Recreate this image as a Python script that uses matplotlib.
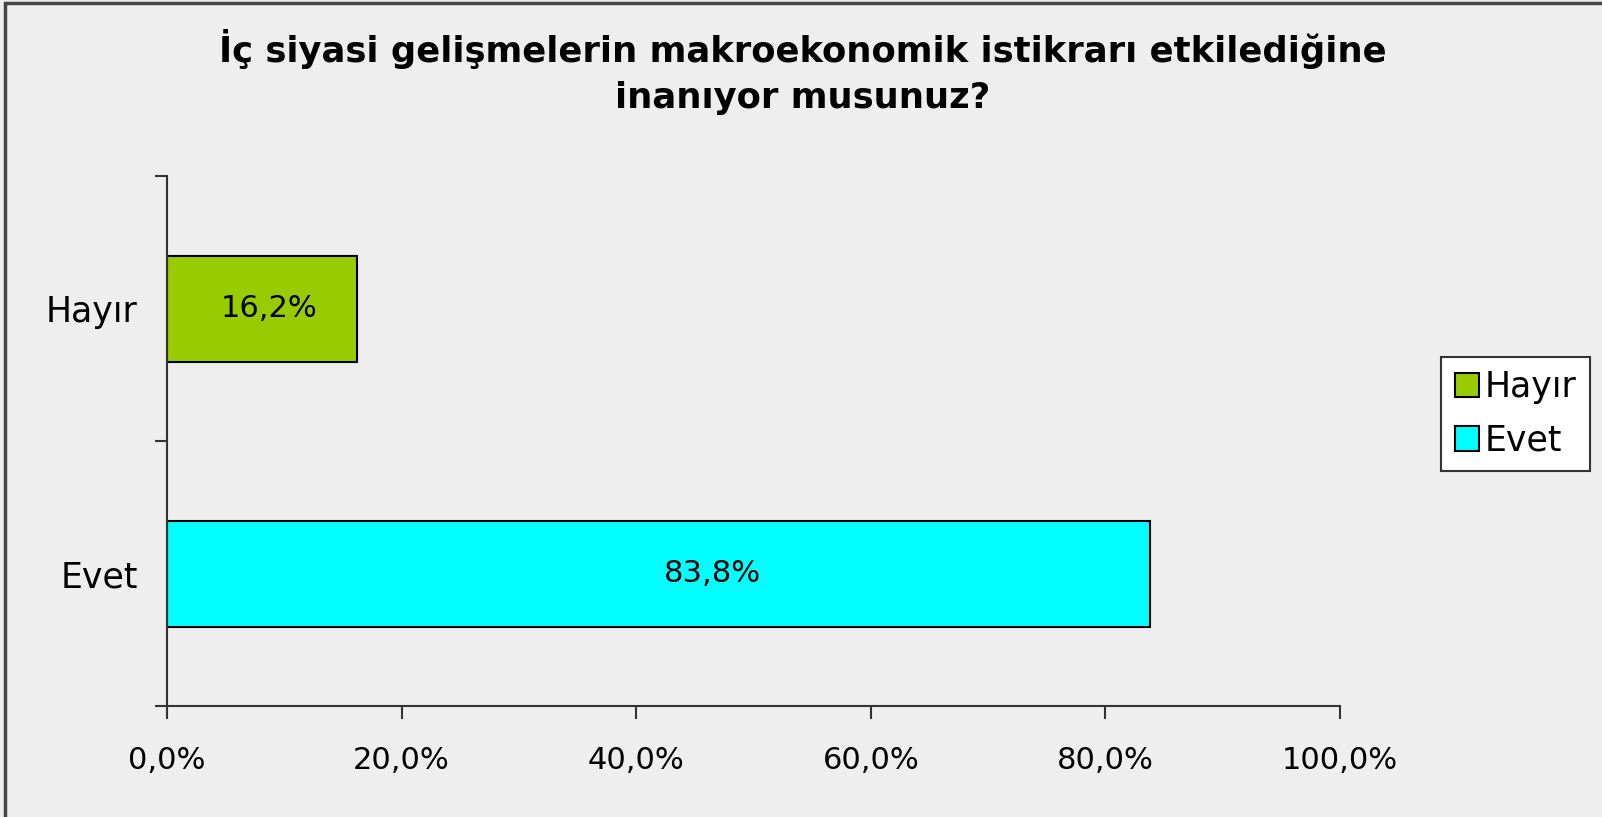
import matplotlib
matplotlib.use("Agg")
import matplotlib.pyplot as plt
from matplotlib.patches import Rectangle
from matplotlib.ticker import FuncFormatter

# veriler
categories = ["Evet", "Hayır"]
values = [83.8, 16.2]
colors = ["#00FFFF", "#99CC00"]
title_text = "İç siyasi gelişmelerin makroekonomik istikrarı etkilediğine\ninanıyor musunuz?"
xticks = [0, 20, 40, 60, 80, 100]

BG = "#EEEEEE"
FONT = "DejaVu Sans"
FS = 22

fig = plt.figure(figsize=(16.02, 8.17), dpi=100)
fig.patch.set_facecolor(BG)

# cerceve (sag ve alt kenar kesik)
fig.add_artist(Rectangle((5 / 1602, -0.05), 1.1, 1.05 - 2.5 / 817,
                         transform=fig.transFigure, fill=False,
                         edgecolor="#444444", linewidth=2.5))

ax = fig.add_axes([167 / 1602, 1 - 706 / 817, (1340 - 167) / 1602, (706 - 176) / 817])
ax.set_facecolor(BG)

bars = ax.barh(range(len(categories)), values, height=0.4, color=colors,
               edgecolor="black", linewidth=1.5)

for i, v in enumerate(values):
    ax.text(v * 0.56 - 0.4, i, ("%.1f%%" % v).replace(".", ","), ha="center", va="center",
            fontsize=FS, family=FONT)

ax.set_xlim(0, 100)
ax.set_ylim(-0.5, 1.5)
ax.set_xticks(xticks)
ax.xaxis.set_major_formatter(FuncFormatter(lambda x, p: ("%.1f%%" % x).replace(".", ",")))
ax.set_yticks([-0.5, 0.5, 1.5])
ax.set_yticklabels([])
ax.set_yticks([0, 1], minor=True)
ax.set_yticklabels(categories, minor=True, fontsize=FS + 3, family=FONT)
ax.tick_params(axis="y", which="minor", length=0, pad=21)
ax.tick_params(axis="y", which="major", length=9, width=1.5, color="#333333")
ax.tick_params(axis="x", length=9, width=1.5, color="#333333", pad=20)
for lbl in ax.get_xticklabels():
    lbl.set_fontsize(FS)
    lbl.set_family(FONT)

for s in ["top", "right"]:
    ax.spines[s].set_visible(False)
for s in ["left", "bottom"]:
    ax.spines[s].set_linewidth(1.5)
    ax.spines[s].set_color("#333333")

fig.text(803 / 1602, 1 - 72 / 817, title_text, ha="center", va="center",
         fontsize=25.5, fontweight="bold", family="DejaVu Sans", linespacing=1.45)

leg = ax.legend(bars.patches[::-1], categories[::-1], loc="center left",
                bbox_to_anchor=(1441 / 1602, 1 - 414 / 817), bbox_transform=fig.transFigure,
                prop={"family": FONT, "size": FS + 3}, frameon=True, fancybox=False,
                handlelength=0.7, handleheight=0.7, handletextpad=0.15,
                labelspacing=0.55, borderpad=0.4, borderaxespad=0)
leg.get_frame().set_edgecolor("#333333")
leg.get_frame().set_linewidth(1.5)
leg.get_frame().set_facecolor("white")
leg.get_frame().set_alpha(1)

fig.savefig("out.png", dpi=100, facecolor=BG)
